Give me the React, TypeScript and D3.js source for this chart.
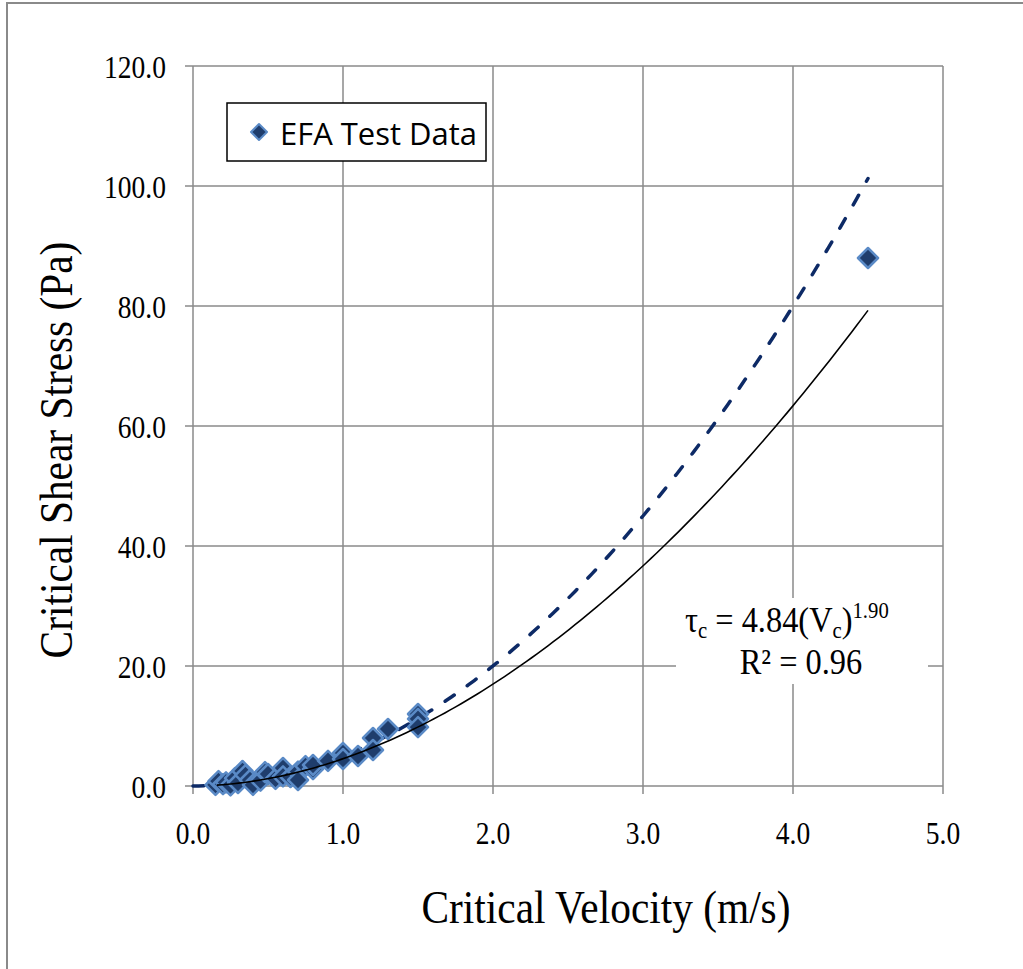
import React from 'react';
import * as d3 from 'd3';

// EFA test points: critical velocity (m/s) vs critical shear stress (Pa)
const velocity = [0.15, 0.17, 0.2, 0.22, 0.25, 0.28, 0.3, 0.33, 0.35, 0.38, 0.4, 0.45, 0.48, 0.5, 0.55, 0.6, 0.6, 0.65, 0.7, 0.7, 0.75, 0.8, 0.8, 0.9, 1.0, 1.0, 1.1, 1.2, 1.2, 1.3, 1.5, 1.5, 1.5, 4.5];
const shearStress = [0.2, 0.8, 0.3, 0.6, 0.1, 1.3, 0.5, 2.5, 1.8, 1.0, 0.2, 0.9, 2.3, 2.0, 1.2, 3.0, 1.6, 1.5, 2.4, 1.0, 3.3, 2.8, 3.5, 4.2, 5.5, 4.5, 5.0, 8.0, 6.0, 9.5, 12.0, 11.2, 9.8, 88.0];

// power curves as drawn: tau = a * V^b
const trendCurve = { a: 4.55, b: 1.9, from: 0.16, to: 4.5 };
const dashedCurve = { a: 5.0, b: 2.0, from: 0, to: 4.5 };

const xTicks = [0, 1, 2, 3, 4, 5];
const yTicks = [0, 20, 40, 60, 80, 100, 120];

const W = 1023;
const H = 969;
const serif = '"Liberation Serif", "Times New Roman", serif';
const squeeze = 0.86; // text in the original is narrow and tall

const x = d3.scaleLinear().domain([0, 5]).range([193, 943]);
const y = d3.scaleLinear().domain([0, 120]).range([786, 66]);

const curvePath = (c: { a: number; b: number; from: number; to: number }) => {
    const n = 120;
    const pts = d3.range(n + 1).map(i => {
        const v = c.from + (c.to - c.from) * i / n;
        return [v, c.a * Math.pow(v, c.b)] as [number, number];
    });
    return d3.line().x(d => x(d[0])).y(d => y(d[1]))(pts) || '';
};

const diamond = (cx: number, cy: number, r: number) =>
    `M${cx},${cy - r}L${cx + r},${cy}L${cx},${cy + r}L${cx - r},${cy}Z`;

export default function App() {
    const grid = '#8a8a8a';
    const points = velocity.map((v, i) => ({ v, t: shearStress[i] }));

    return (
        <div style={{ position: 'absolute', left: 0, top: 0 }}>
            <svg width={W} height={H} style={{ display: 'block', background: '#fff' }}>
                {/* outer frame */}
                <rect x={7} y={3} width={W + 20} height={H + 20} fill="none" stroke={grid} strokeWidth={2} />

                {/* gridlines */}
                {yTicks.map(t => (
                    <line key={'gy' + t} x1={x(0)} x2={x(5)} y1={y(t)} y2={y(t)} stroke={grid} strokeWidth={1.5} />
                ))}
                {xTicks.map(t => (
                    <line key={'gx' + t} x1={x(t)} x2={x(t)} y1={y(0)} y2={y(120)} stroke={grid} strokeWidth={1.5} />
                ))}

                {/* tick marks */}
                {yTicks.map(t => (
                    <line key={'ty' + t} x1={x(0) - 8} x2={x(0)} y1={y(t)} y2={y(t)} stroke={grid} strokeWidth={1.5} />
                ))}
                {xTicks.map(t => (
                    <line key={'tx' + t} x1={x(t)} x2={x(t)} y1={y(0)} y2={y(0) + 8} stroke={grid} strokeWidth={1.5} />
                ))}

                {/* tick labels */}
                {yTicks.map(t => (
                    <text key={'ly' + t} transform={`translate(166,${y(t) + 12}) scale(${squeeze},1)`} textAnchor="end" fontFamily={serif} fontSize={32} fill="#000">
                        {t.toFixed(1)}
                    </text>
                ))}
                {xTicks.map(t => (
                    <text key={'lx' + t} transform={`translate(${x(t)},844) scale(${squeeze},1)`} textAnchor="middle" fontFamily={serif} fontSize={32} fill="#000">
                        {t.toFixed(1)}
                    </text>
                ))}

                {/* axis titles */}
                <text transform={`translate(606,923) scale(0.88,1)`} textAnchor="middle" fontFamily={serif} fontSize={47} fill="#000">
                    Critical Velocity (m/s)
                </text>
                <text transform={`translate(72,${(y(0) + y(120)) / 2 + 24}) rotate(-90) scale(0.88,1)`} textAnchor="middle" fontFamily={serif} fontSize={47} fill="#000">
                    Critical Shear Stress (Pa)
                </text>

                {/* equation label with white backing */}
                <rect x={676} y={598} width={252} height={86} fill="#fff" />
                <text transform={`translate(685,632) scale(0.9,1)`} fontFamily={serif} fontSize={36} fill="#000">
                    τ<tspan fontSize={23} dy={6}>c</tspan>
                    <tspan dy={-6}> = 4.84(V</tspan>
                    <tspan fontSize={23} dy={6}>c</tspan>
                    <tspan dy={-6}>)</tspan>
                    <tspan fontSize={23} dy={-14}>1.90</tspan>
                </text>
                <text transform={`translate(801,674) scale(0.9,1)`} textAnchor="middle" fontFamily={serif} fontSize={36} fill="#000">
                    R² = 0.96
                </text>

                {/* curves */}
                <path d={curvePath(dashedCurve)} fill="none" stroke="#0d2a66" strokeWidth={3.5} strokeDasharray="11,16" strokeLinecap="round" />

                {/* data points */}
                {points.map((p, i) => (
                    <path key={i} d={diamond(x(p.v), y(p.t), 10)} fill="#1f3d6c" stroke="#5a8ac6" strokeWidth={2.5} strokeLinejoin="round" />
                ))}

                <path d={curvePath(trendCurve)} fill="none" stroke="#000" strokeWidth={1.6} />

                {/* legend */}
                <rect x={227} y={103} width={259} height={58} fill="#fff" stroke="#000" strokeWidth={1.5} />
                <path d={diamond(259, 132, 8)} fill="#1f3d6c" stroke="#5a8ac6" strokeWidth={2} strokeLinejoin="round" />
                <text x={280} y={145} fontFamily='"Open Sans", "Liberation Sans", sans-serif' fontSize={31} textLength={197} lengthAdjust="spacingAndGlyphs" fill="#000">
                    EFA Test Data
                </text>
            </svg>
        </div>
    );
}
